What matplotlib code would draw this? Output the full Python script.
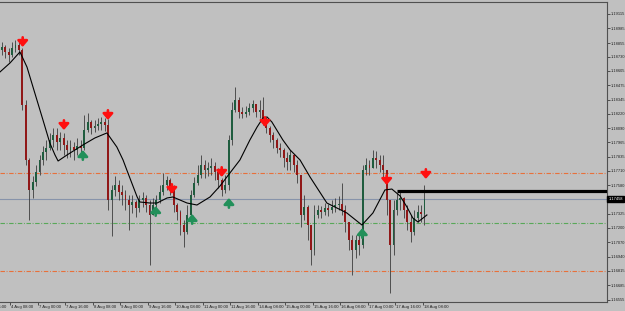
import matplotlib
matplotlib.use('Agg')
import matplotlib.pyplot as plt
import matplotlib.transforms as mtransforms
import numpy as np

# EURUSD-like H2 candles (bar index = 2h steps from 4 Aug 02:00)
first_open = 1.18792
close = [1.18819, 1.18775, 1.18748, 1.18810, 1.18837, 1.18792, 1.18300, 1.17808, 1.17540, 1.17611,
         1.17701, 1.17808, 1.17880, 1.17915, 1.17987, 1.18032, 1.17969, 1.18005, 1.17942, 1.17898,
         1.17924, 1.17898, 1.17933, 1.17915, 1.18076, 1.18148, 1.18094, 1.18112, 1.18130, 1.18148,
         1.18121, 1.17450, 1.17540, 1.17584, 1.17522, 1.17495, 1.17450, 1.17405, 1.17432, 1.17378,
         1.17450, 1.17468, 1.17405, 1.17316, 1.17405, 1.17450, 1.17522, 1.17584, 1.17629, 1.17557,
         1.17405, 1.17343, 1.17226, 1.17164, 1.17316, 1.17495, 1.17602, 1.17674, 1.17763, 1.17719,
         1.17736, 1.17754, 1.17701, 1.17629, 1.17540, 1.17584, 1.17987, 1.18255, 1.18345, 1.18238,
         1.18220, 1.18238, 1.18273, 1.18309, 1.18238, 1.18255, 1.18184, 1.18094, 1.18032, 1.17987,
         1.17915, 1.17898, 1.17826, 1.17790, 1.17853, 1.17763, 1.17674, 1.17316, 1.17387, 1.17226,
         1.17003, 1.17316, 1.17361, 1.17343, 1.17378, 1.17361, 1.17387, 1.17405, 1.17414, 1.17361,
         1.17253, 1.17092, 1.17003, 1.17092, 1.17047, 1.17719, 1.17763, 1.17736, 1.17826, 1.17808,
         1.17763, 1.17719, 1.17450, 1.17047, 1.17361, 1.17450, 1.17468, 1.17361, 1.17253, 1.17164,
         1.17289, 1.17343, 1.17325, 1.17458]
high = [1.18864, 1.18837, 1.18810, 1.18864, 1.18882, 1.18891, 1.18810, 1.18345, 1.17826, 1.17665,
        1.17763, 1.17853, 1.17933, 1.17987, 1.18050, 1.18094, 1.18094, 1.18059, 1.18050, 1.17987,
        1.17987, 1.17969, 1.18005, 1.17987, 1.18211, 1.18229, 1.18166, 1.18166, 1.18184, 1.18193,
        1.18184, 1.18175, 1.17584, 1.17665, 1.17629, 1.17584, 1.17540, 1.17495, 1.17495, 1.17450,
        1.17495, 1.17522, 1.17495, 1.17450, 1.17468, 1.17495, 1.17584, 1.17692, 1.17665, 1.17647,
        1.17584, 1.17423, 1.17361, 1.17271, 1.17405, 1.17540, 1.17656, 1.17763, 1.17853, 1.17808,
        1.17790, 1.17826, 1.17790, 1.17736, 1.17647, 1.17674, 1.18032, 1.18327, 1.18461, 1.18372,
        1.18282, 1.18291, 1.18318, 1.18345, 1.18309, 1.18345, 1.18372, 1.18184, 1.18112, 1.18059,
        1.18005, 1.17960, 1.17915, 1.17880, 1.17898, 1.17853, 1.17808, 1.17674, 1.17495, 1.17405,
        1.17226, 1.17405, 1.17405, 1.17396, 1.17423, 1.17414, 1.17450, 1.17468, 1.17486, 1.17602,
        1.17405, 1.17253, 1.17137, 1.17137, 1.17137, 1.17763, 1.17826, 1.17808, 1.17898, 1.17889,
        1.17853, 1.17853, 1.17719, 1.17450, 1.17450, 1.17513, 1.17540, 1.17477, 1.17405, 1.17316,
        1.17361, 1.17405, 1.17405, 1.17584]
low = [1.18748, 1.18721, 1.18685, 1.18730, 1.18775, 1.18748, 1.18255, 1.17763, 1.17271, 1.17468,
       1.17575, 1.17674, 1.17763, 1.17808, 1.17898, 1.17924, 1.17898, 1.17898, 1.17853, 1.17826,
       1.17835, 1.17808, 1.17853, 1.17844, 1.17898, 1.18059, 1.18041, 1.18059, 1.18076, 1.18076,
       1.18068, 1.17361, 1.17128, 1.17486, 1.17450, 1.17405, 1.17361, 1.17182, 1.17334, 1.17298,
       1.17343, 1.17387, 1.17343, 1.16868, 1.17316, 1.17361, 1.17423, 1.17495, 1.17540, 1.17495,
       1.17343, 1.17271, 1.17137, 1.17029, 1.17146, 1.17316, 1.17477, 1.17584, 1.17647, 1.17647,
       1.17665, 1.17674, 1.17629, 1.17557, 1.17486, 1.17513, 1.17540, 1.17942, 1.18238, 1.18184,
       1.18184, 1.18193, 1.18211, 1.18238, 1.18193, 1.18184, 1.18121, 1.18050, 1.17969, 1.17915,
       1.17871, 1.17835, 1.17745, 1.17719, 1.17719, 1.17701, 1.17602, 1.17208, 1.17271, 1.17092,
       1.16868, 1.16958, 1.17289, 1.17289, 1.17316, 1.17307, 1.17334, 1.17343, 1.17361, 1.17316,
       1.17164, 1.17003, 1.16779, 1.16931, 1.16958, 1.17020, 1.17674, 1.17674, 1.17736, 1.17736,
       1.17701, 1.17647, 1.17316, 1.16618, 1.16958, 1.17316, 1.17361, 1.17289, 1.17182, 1.17074,
       1.17137, 1.17253, 1.17253, 1.17226]

# moving average line
ma_x = [0, 2.9, 5.8, 7.85, 9.6, 12.5, 14.5, 16.0, 16.9, 19.5, 24.1, 27.6, 31.1, 34.0, 35.8, 36.9,
        39.9, 40.7, 43.6, 45.7, 48.6, 50.3, 54.4, 57.3, 61.1, 64.0, 66.9, 69.8, 72.7, 74.8, 76.5,
        77.7, 79.1, 82.3, 84.4, 87.3, 90.2, 95.1, 100.9, 105.3, 108.5, 112.0, 114.0, 116.4, 118.4,
        120.1, 121.6, 123.1, 124.2]
ma_y = [1.18596, 1.18676, 1.18775, 1.18640, 1.18461, 1.18166, 1.17960, 1.17853, 1.17799, 1.17853,
        1.17942, 1.18005, 1.18050, 1.17924, 1.17808, 1.17718, 1.17477, 1.17432, 1.17423, 1.17423,
        1.17468, 1.17477, 1.17423, 1.17405, 1.17477, 1.17575, 1.17692, 1.17808, 1.17987, 1.18103,
        1.18184, 1.18193, 1.18148, 1.17987, 1.17898, 1.17808, 1.17656, 1.17423, 1.17334, 1.17226,
        1.17334, 1.17540, 1.17548, 1.17486, 1.17387, 1.17289, 1.17253, 1.17289, 1.17316]

# signal arrows (x in bar units, y = arrow tip price)
sell_x = [6.6, 18.6, 31.4, 50.0, 64.5, 77.1, 112.5, 123.9]
sell_y = [1.18819, 1.18076, 1.18166, 1.17504, 1.17656, 1.18103, 1.17584, 1.17638]
buy_x = [24.1, 45.3, 55.9, 66.6, 105.4]
buy_y = [1.17897, 1.17396, 1.17325, 1.17468, 1.17199]

# levels
level_hi = 1.17692
level_lo = 1.16815
level_green = 1.17245
bid = 1.17458
resist = 1.17530
resist_start = 115.5

price_ticks = [1.19115, 1.18985, 1.18855, 1.18730, 1.18605, 1.18475, 1.18345, 1.18220, 1.18090,
               1.17965, 1.17835, 1.17710, 1.17580, 1.17325, 1.17200, 1.17070, 1.16940, 1.16815,
               1.16685, 1.16555]
time_pos = [-5, 3, 11, 19, 27, 35, 43, 51, 59, 67, 75, 83, 91, 99, 107, 115, 123]
time_lab = ['3 Aug 16:00', '4 Aug 08:00', '7 Aug 00:00', '7 Aug 16:00', '8 Aug 08:00', '9 Aug 00:00',
            '9 Aug 16:00', '10 Aug 08:00', '11 Aug 00:00', '11 Aug 16:00', '14 Aug 08:00',
            '15 Aug 00:00', '15 Aug 16:00', '16 Aug 08:00', '17 Aug 00:00', '17 Aug 16:00',
            '18 Aug 08:00']

bg = '#c0c0c0'
plt.rcParams['font.family'] = ['Liberation Sans', 'DejaVu Sans']

fig = plt.figure(figsize=(6.25, 3.11), dpi=100, facecolor=bg)
ax = fig.add_axes([0, 9 / 311, 607 / 625, 300 / 311], facecolor=bg)

close = np.array(close)
high = np.array(high)
low = np.array(low)
opn = np.concatenate([[first_open], close[:-1]])
x = np.arange(len(close)) + 0.5

# level lines
dd = (4, 1.5, 0.8, 1.5)
ax.axhline(level_hi, color='#e8703a', lw=0.8, dashes=dd, zorder=1)
ax.axhline(level_lo, color='#e8703a', lw=0.8, dashes=dd, zorder=1)
ax.axhline(level_green, color='#58a858', lw=0.8, dashes=dd, zorder=1)
ax.axhline(bid, color='#8793aa', lw=0.8, zorder=1)

# candles
ax.vlines(x, low, high, color='#3c3c3c', lw=0.6, zorder=2)
up = close >= opn
body = np.where(np.abs(close - opn) < 0.00004, 0.00004, close - opn)
ax.bar(x[up], body[up], bottom=opn[up], width=0.55, color='#1f5c3e', lw=0, zorder=3)
ax.bar(x[~up], body[~up], bottom=opn[~up], width=0.55, color='#901818', lw=0, zorder=3)

# moving average
ax.plot(ma_x, ma_y, color='black', lw=0.8, zorder=4)

# resistance line
ax.hlines(resist, resist_start, 176.6, color='black', lw=2.3, zorder=4)

# arrows
astyle = '-|>,head_length=0.35,head_width=0.3'
for xs, ys in zip(sell_x, sell_y):
    ax.annotate('', xy=(xs, ys), xytext=(0, 7), textcoords='offset points',
                arrowprops=dict(arrowstyle=astyle, color='#ff1010', lw=1.9, shrinkA=0, shrinkB=0),
                zorder=5)
for xs, ys in zip(buy_x, buy_y):
    ax.annotate('', xy=(xs, ys), xytext=(0, -7), textcoords='offset points',
                arrowprops=dict(arrowstyle=astyle, color='#22905a', lw=1.9, shrinkA=0, shrinkB=0),
                zorder=5)

ax.set_xlim(0, 176.6)
ax.set_ylim(1.16537, 1.19222)

for s in ['top', 'right', 'bottom']:
    ax.spines[s].set_color('#505050')
    ax.spines[s].set_linewidth(0.8)
ax.spines['left'].set_visible(False)

ax.yaxis.tick_right()
ax.set_yticks(price_ticks)
ax.set_yticklabels(['%.5f' % p for p in price_ticks])
ax.tick_params(axis='y', length=2, width=0.5, pad=1, labelsize=2.9, colors='#202020')

ax.set_xticks([p for p in time_pos if p >= 0])
ax.set_xticklabels([])
ax.tick_params(axis='x', length=2, width=0.5, colors='#202020')
tr = mtransforms.blended_transform_factory(ax.transData, ax.transAxes)
for p, lab in zip(time_pos, time_lab):
    ax.text(p + 0.3, -0.011, lab, transform=tr, ha='left', va='top', fontsize=3.1,
            color='#202020', clip_on=False)

# current price box
ax.text(1.002, bid, '1.17458', transform=mtransforms.blended_transform_factory(ax.transAxes, ax.transData),
        ha='left', va='center', fontsize=2.9, color='white',
        bbox=dict(boxstyle='square,pad=0.25', fc='black', ec='black'))

fig.savefig('out.png', dpi=100, facecolor=bg)
